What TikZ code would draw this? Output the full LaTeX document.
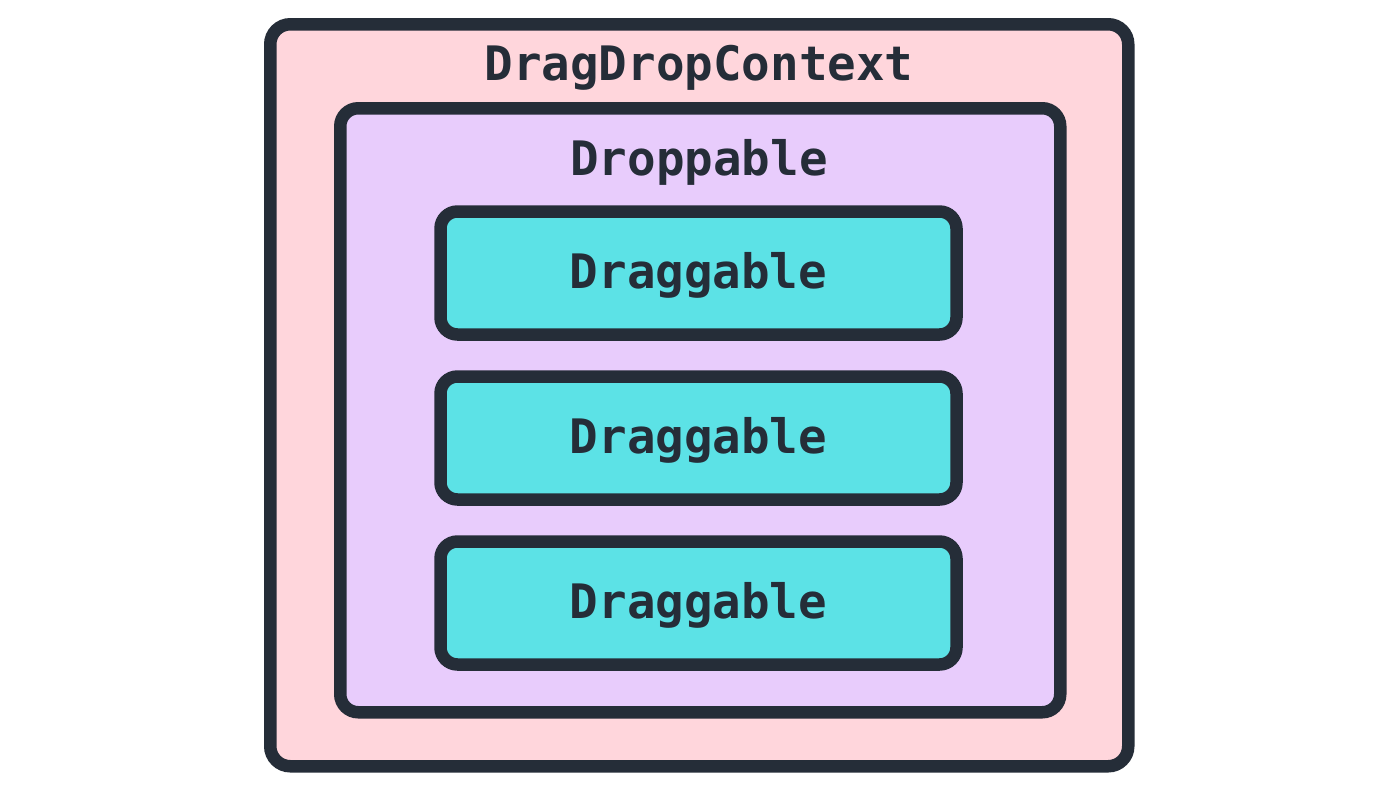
\documentclass[tikz,border=0pt]{standalone}
\usepackage{fontspec}
\setmonofont{DejaVu Sans Mono}
\usetikzlibrary{positioning}

\definecolor{contextpink}{RGB}{255,214,220}
\definecolor{droplilac}{RGB}{232,204,252}
\definecolor{dragcyan}{RGB}{92,226,230}
\definecolor{inkdark}{RGB}{37,45,56}

\begin{document}
\begin{tikzpicture}[
        x=1pt, y=-1pt,
        frame/.style={
            rectangle,
            draw=inkdark,
            line width=12.5pt,
            inner sep=0pt,
        },
        context/.style={
            frame,
            fill=contextpink,
            rounded corners=20pt,
            minimum width=858pt,
            minimum height=742pt,
        },
        droppable/.style={
            frame,
            fill=droplilac,
            rounded corners=18pt,
            minimum width=720pt,
            minimum height=604pt,
        },
        draggable/.style={
            frame,
            fill=dragcyan,
            rounded corners=17pt,
            minimum width=516pt,
            minimum height=123pt,
        },
        title/.style={
            anchor=base,
            text=inkdark,
            font=\ttfamily\bfseries\fontsize{47.5}{47.5}\selectfont,
        },
    ]

    \useasboundingbox[fill=white] (0, 0) rectangle (1400, 788);

    \node[context]   (ctx)  at (699.25, 395.25) {};
    \node[droppable] (drop) at (700.25, 410.25) {};

    \node[draggable] (d1) at (698.5, 273) {};
    \node[draggable] (d2) at (698.5, 438) {};
    \node[draggable] (d3) at (698.5, 603) {};

    \node[title] (ctxlabel)  at (699, 80)  {DragDropContext};
    \node[title] (droplabel) at (699, 175) {Droppable};

    \foreach \d in {d1, d2, d3}
        \node[title] (\d label) at ([yshift=-15pt]\d.center) {Draggable};

\end{tikzpicture}
\end{document}
